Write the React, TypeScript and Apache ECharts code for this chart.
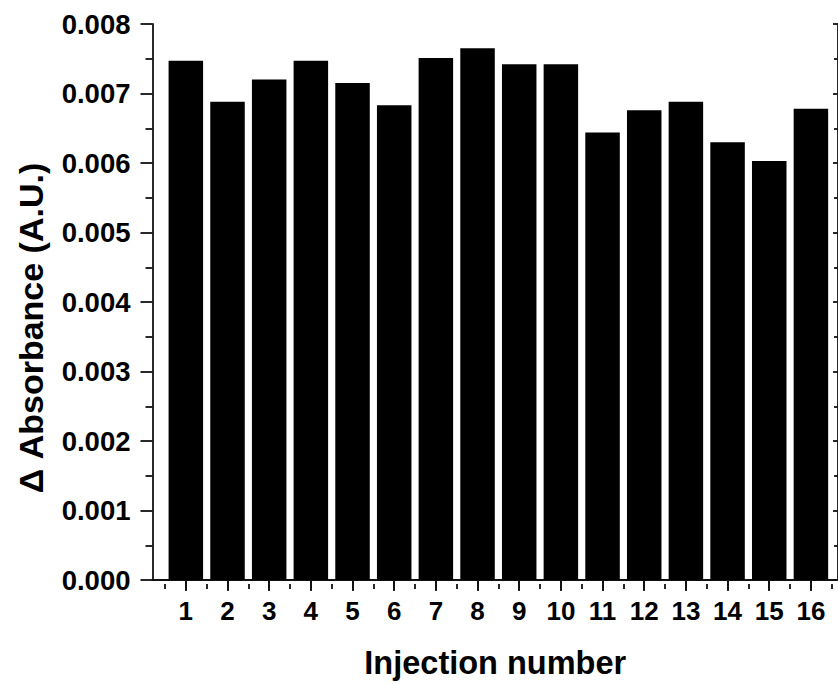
import React, { useEffect, useRef } from "react";
import * as echarts from "echarts";

// Injection numbers along the x axis
const injections = [1, 2, 3, 4, 5, 6, 7, 8, 9, 10, 11, 12, 13, 14, 15, 16];
// Change in absorbance for each injection (A.U.)
const absorbance = [
  0.00747, 0.00688, 0.0072, 0.00747, 0.00715, 0.00683, 0.00751, 0.00765,
  0.00742, 0.00742, 0.00644, 0.00676, 0.00688, 0.0063, 0.00603, 0.00678,
];
// Minor tick positions on the top frame, halfway between injections
const halfSteps = [0.5, 1.5, 2.5, 3.5, 4.5, 5.5, 6.5, 7.5, 8.5, 9.5, 10.5, 11.5, 12.5, 13.5, 14.5, 15.5, 16.5];

const X_MIN = 0.2;
const X_MAX = 16.65;
const Y_MIN = 0;
const Y_MAX = 0.008;
const Y_STEP = 0.001;

const FONT = "'Liberation Sans', Arial, sans-serif";
const INK = "#000";
const LINE = { color: "#111", width: 1.8 };

export default function App() {
  const ref = useRef<HTMLDivElement>(null);

  useEffect(() => {
    if (!ref.current) return;
    const chart = echarts.init(ref.current, null, { renderer: "svg" });
    const rect = { left: 152.5, top: 24, width: 687, height: 560 };

    chart.setOption({
      animation: false,
      backgroundColor: "#fff",
      grid: [
        { ...rect, containLabel: false },
        { ...rect, containLabel: false },
      ],
      xAxis: [
        {
          type: "value",
          gridIndex: 0,
          position: "bottom",
          min: X_MIN,
          max: X_MAX,
          axisLine: { show: true, lineStyle: LINE },
          axisTick: {
            show: true,
            customValues: injections,
            length: 11,
            lineStyle: LINE,
          },
          axisLabel: {
            customValues: injections,
            color: INK,
            fontFamily: FONT,
            fontWeight: "bold",
            fontSize: 26,
            margin: 18,
          },
          splitLine: { show: false },
          name: "Injection number",
          nameLocation: "middle",
          nameGap: 66,
          nameTextStyle: {
            color: INK,
            fontFamily: FONT,
            fontWeight: "bold",
            fontSize: 32.5,
          },
        },
        {
          type: "value",
          gridIndex: 0,
          position: "top",
          min: X_MIN,
          max: X_MAX,
          axisLine: { show: true, lineStyle: LINE },
          axisTick: {
            show: true,
            inside: true,
            customValues: injections,
            length: 10,
            lineStyle: LINE,
          },
          axisLabel: { show: false },
          splitLine: { show: false },
        },
        {
          type: "value",
          gridIndex: 1,
          position: "top",
          min: X_MIN,
          max: X_MAX,
          axisLine: { show: false },
          axisTick: {
            show: true,
            inside: true,
            customValues: halfSteps,
            length: 5,
            lineStyle: LINE,
          },
          axisLabel: { show: false },
          splitLine: { show: false },
        },
      ],
      yAxis: [
        {
          type: "value",
          gridIndex: 0,
          position: "left",
          min: Y_MIN,
          max: Y_MAX,
          interval: Y_STEP,
          axisLine: { show: true, lineStyle: LINE },
          axisTick: { show: true, length: 12, lineStyle: LINE },
          minorTick: { show: true, splitNumber: 2, length: 7, lineStyle: LINE },
          axisLabel: {
            color: INK,
            fontFamily: FONT,
            fontWeight: "bold",
            fontSize: 27.5,
            margin: 22,
            formatter: (v: number) => v.toFixed(3),
          },
          splitLine: { show: false },
          minorSplitLine: { show: false },
        },
        {
          type: "value",
          gridIndex: 0,
          position: "right",
          min: Y_MIN,
          max: Y_MAX,
          interval: Y_STEP,
          axisLine: { show: true, lineStyle: LINE },
          axisTick: { show: true, inside: true, length: 5, lineStyle: LINE },
          minorTick: { show: true, splitNumber: 2, length: 4, lineStyle: LINE },
          axisLabel: { show: false },
          splitLine: { show: false },
          minorSplitLine: { show: false },
        },
        {
          type: "value",
          gridIndex: 1,
          min: 0,
          max: 1,
          show: false,
        },
      ],
      graphic: [
        {
          type: "text",
          x: 31,
          y: 328,
          rotation: Math.PI / 2,
          style: {
            text: "Δ Absorbance (A.U.)",
            fill: INK,
            font: `bold 34px ${FONT}`,
            align: "center",
            verticalAlign: "middle",
          },
        },
      ],
      series: [
        {
          type: "bar",
          xAxisIndex: 0,
          yAxisIndex: 0,
          barWidth: 34.5,
          itemStyle: { color: INK },
          data: injections.map((n, i) => [n, absorbance[i]]),
        },
      ],
    });

    return () => chart.dispose();
  }, []);

  return (
    <div
      ref={ref}
      style={{ position: "fixed", left: 0, top: 0, width: 838, height: 684, background: "#fff" }}
    />
  );
}
